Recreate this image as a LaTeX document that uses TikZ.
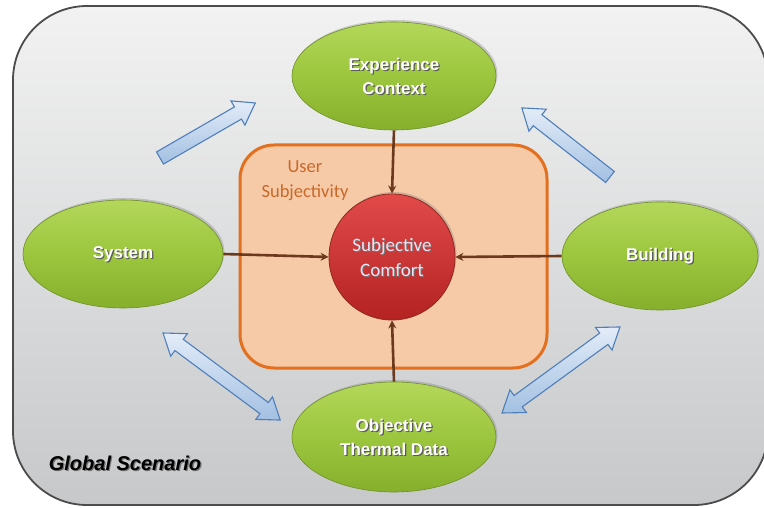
\documentclass[tikz,border=0pt]{standalone}
\usepackage{fontspec}
\setmainfont{Liberation Sans}
\newfontfamily\calib{Carlito}
\usetikzlibrary{shapes.geometric,shadows,arrows.meta}
\definecolor{bgtop}{HTML}{F2F2F2}
\definecolor{bgbot}{HTML}{C6C8CA}
\definecolor{greentop}{HTML}{B4D75A}
\definecolor{greenmid}{HTML}{9CC63E}
\definecolor{greenbot}{HTML}{86B02C}
\definecolor{greenedge}{HTML}{6F8F2A}
\definecolor{redtop}{HTML}{E24A4A}
\definecolor{redbot}{HTML}{B42222}
\definecolor{rededge}{HTML}{8E2A1E}
\definecolor{peach}{HTML}{F6C9A7}
\definecolor{orangeedge}{HTML}{E2701F}
\definecolor{usertxt}{HTML}{C8692A}
\definecolor{brownln}{HTML}{6B391C}
\definecolor{bluetop}{HTML}{E3ECF8}
\definecolor{bluebot}{HTML}{A3C0E2}
\definecolor{blueedge}{HTML}{4F7FBA}
\definecolor{lav}{HTML}{ECE6F6}
\newcommand\blkone[4]{%
  \draw[blk, shift={(#1,#2)}, rotate=#3]
    (0,-7) -- ({#4-20},-7) -- ({#4-20},-14) -- (#4,0) -- ({#4-20},14)
    -- ({#4-20},7) -- (0,7) -- cycle;}
\newcommand\blktwo[4]{%
  \draw[blk, shift={(#1,#2)}, rotate=#3]
    (0,0) -- (20,-14) -- (20,-7) -- ({#4-20},-7) -- ({#4-20},-14) -- (#4,0)
    -- ({#4-20},14) -- ({#4-20},7) -- (20,7) -- (20,14) -- cycle;}
\begin{document}
\begin{tikzpicture}[x=1pt,y=-1pt,
  ell/.style={ellipse, minimum width=204, minimum height=108, inner sep=0,
    draw=greenedge, line width=0.6, top color=greentop, bottom color=greenbot,
    middle color=greenmid, drop shadow={opacity=0.35, shadow xshift=1.5, shadow yshift=-2}},
  lbl/.style={align=center, text=white, font=\fontsize{17}{24}\selectfont\bfseries},
  lblsh/.style={lbl, text=black!65},
  conn/.style={draw=brownln, line width=2.6, -{Stealth[length=8, width=8]}},
  blk/.style={draw=blueedge, line width=1.1, top color=bluetop, bottom color=bluebot, line join=miter}
]
\useasboundingbox (0,0) rectangle (764,508);
\fill[white] (0,0) rectangle (764,508);
% global scenario frame
\path[draw=black!70, line width=1.8, top color=bgtop, bottom color=bgbot,
  rounded corners=74] (13,6) rectangle (768,505);
% user subjectivity box
\node[draw=orangeedge, line width=3, fill=peach, rounded corners=34,
  minimum width=307, minimum height=223, inner sep=0] (us) at (393.5,256.5) {};
\node[align=center, text=usertxt, font=\calib\fontsize{18.5}{25}\selectfont] (ustxt)
  at (305,181) {User\\Subjectivity};
% ellipses
\node[ell] (exp) at (394,76) {};
\node[ell, minimum width=200] (sys) at (123,254) {};
\node[ell, minimum width=196] (bld) at (660,256) {};
\node[ell, minimum height=110] (obj) at (394,437) {};
% subjective comfort
\node[circle, minimum size=126, inner sep=0, draw=rededge, line width=0.8,
  top color=redtop, bottom color=redbot,
  drop shadow={opacity=0.35, shadow xshift=1.5, shadow yshift=-2}] (sc) at (392,257) {};
% labels with shadows
\node[lblsh] at ([shift={(1.2,1.2)}]exp.center) {Experience\\Context};
\node[lbl] (expl) at (exp.center) {Experience\\Context};
\node[lblsh] at ([shift={(1.2,1.2)}]sys.center) {System};
\node[lbl] (sysl) at (sys.center) {System};
\node[lblsh] at ([shift={(1.2,1.2)}]bld.center) {Building};
\node[lbl] (bldl) at (bld.center) {Building};
\node[lblsh] at ([shift={(1.2,1.2)}]obj.center) {Objective\\Thermal Data};
\node[lbl] (objl) at (obj.center) {Objective\\Thermal Data};
\node[align=center, text=black!55, font=\calib\fontsize{19}{25}\selectfont]
  at ([shift={(1,1)}]sc.center) {Subjective\\Comfort};
\node[align=center, text=lav, font=\calib\fontsize{19}{25}\selectfont] (scl)
  at (sc.center) {Subjective\\Comfort};
% connectors
\draw[conn] (exp.south) -- (sc.north);
\draw[conn] (obj.north) -- (sc.south);
\draw[conn] (sys.east) -- (sc.west);
\draw[conn] (bld.west) -- (sc.east);
% block arrows
\blkone{160}{158}{30}{110}
\blkone{610}{177}{141.9}{112}
\blktwo{163}{333}{-36.6}{146}
\blktwo{502}{413}{36.1}{146}
% title
\node[text=black!55, font=\fontsize{20}{24}\selectfont\bfseries\itshape]
  at (126.2,464.2) {Global Scenario};
\node[text=black, font=\fontsize{20}{24}\selectfont\bfseries\itshape] (gs)
  at (125,463) {Global Scenario};
\end{tikzpicture}
\end{document}
